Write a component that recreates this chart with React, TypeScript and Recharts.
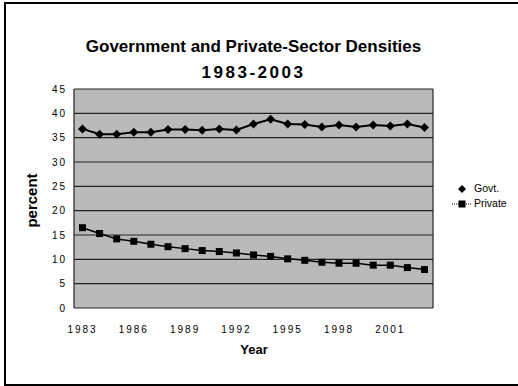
import React from 'react';
import { LineChart, Line, XAxis, YAxis, CartesianGrid } from 'recharts';

const years = ['1983', '1984', '1985', '1986', '1987', '1988', '1989', '1990', '1991', '1992', '1993',
  '1994', '1995', '1996', '1997', '1998', '1999', '2000', '2001', '2002', '2003'];
const govt = [36.8, 35.7, 35.7, 36.1, 36.1, 36.7, 36.7, 36.5, 36.8, 36.6, 37.8,
  38.8, 37.8, 37.7, 37.2, 37.6, 37.2, 37.6, 37.4, 37.8, 37.1];
const priv = [16.5, 15.3, 14.2, 13.7, 13.1, 12.6, 12.2, 11.8, 11.6, 11.3, 10.9,
  10.6, 10.1, 9.8, 9.4, 9.2, 9.2, 8.8, 8.8, 8.3, 7.9];
const yTicks = [0, 5, 10, 15, 20, 25, 30, 35, 40, 45];

const font = '"Liberation Sans", Arial, sans-serif';

const data = years.map((y, i) => ({ year: y, govt: govt[i], priv: priv[i] }));

const Diamond = (p: any) => {
  const { cx, cy } = p;
  if (cx == null || cy == null) return null;
  return <polygon points={`${cx},${cy - 4.5} ${cx + 4.5},${cy} ${cx},${cy + 4.5} ${cx - 4.5},${cy}`} fill="#000" />;
};

const Square = (p: any) => {
  const { cx, cy } = p;
  if (cx == null || cy == null) return null;
  return <rect x={cx - 3.5} y={cy - 3.5} width={7} height={7} fill="#000" />;
};

const tickStyle = { fontSize: 10, fill: '#000', fontFamily: font, letterSpacing: 2 };

export default function App() {
  return (
    <div style={{ position: 'absolute', left: 0, top: 0, width: 518, height: 386, background: '#fff', fontFamily: font }}>
      <div style={{ position: 'absolute', left: 4, top: 2, width: 514, height: 380, borderLeft: '2px solid #000', borderTop: '2px solid #000', borderBottom: '2px solid #000' }} />
      <div style={{ position: 'absolute', left: 74, width: 359, top: 37, textAlign: 'center', fontSize: 17, fontWeight: 'bold', lineHeight: '20px', color: '#000' }}>
        Government and Private-Sector Densities
      </div>
      <div style={{ position: 'absolute', left: 74, width: 359, top: 63, textAlign: 'center', fontSize: 17, fontWeight: 'bold', lineHeight: '20px', letterSpacing: 2.5, color: '#000' }}>
        1983-2003
      </div>
      <LineChart width={518} height={386} data={data} margin={{ top: 89, right: 85, left: 34, bottom: 48 }}>
        <CartesianGrid fill="#bababa" stroke="#222" strokeWidth={1.2} verticalPoints={[74, 433]} />
        <XAxis dataKey="year" interval={2} tickLine={false} axisLine={false} tickSize={0} tickMargin={18}
          padding={{ left: 8.5, right: 8.5 }} height={30} tick={tickStyle} />
        <YAxis domain={[0, 45]} ticks={yTicks} tickLine={false} axisLine={false} tickSize={0} tickMargin={7}
          width={40} tick={tickStyle} />
        <Line dataKey="govt" stroke="#000" strokeWidth={2} dot={<Diamond />} isAnimationActive={false} />
        <Line dataKey="priv" stroke="#000" strokeWidth={1.5} dot={<Square />} isAnimationActive={false} />
      </LineChart>
      <div style={{ position: 'absolute', left: 254, width: 0, top: 342, display: 'flex', justifyContent: 'center', fontSize: 13, fontWeight: 'bold', color: '#000' }}>
        <span style={{ whiteSpace: 'nowrap' }}>Year</span>
      </div>
      <div style={{ position: 'absolute', left: 31, top: 200, width: 0, height: 0, display: 'flex', justifyContent: 'center', alignItems: 'center' }}>
        <span style={{ transform: 'rotate(-90deg)', whiteSpace: 'nowrap', fontSize: 15, fontWeight: 'bold', color: '#000' }}>percent</span>
      </div>
      <div style={{ position: 'absolute', left: 452, top: 181, fontSize: 10.5, color: '#000', lineHeight: '15px' }}>
        <div style={{ display: 'flex', alignItems: 'center' }}>
          <svg width={20} height={12}><polygon points="10,2 14,6 10,10 6,6" fill="#000" /></svg>
          <span style={{ marginLeft: 2 }}>Govt.</span>
        </div>
        <div style={{ display: 'flex', alignItems: 'center' }}>
          <svg width={20} height={12}>
            <line x1={0} y1={6} x2={20} y2={6} stroke="#000" strokeWidth={1} strokeDasharray="1 1" />
            <rect x={6.5} y={2.5} width={7} height={7} fill="#000" />
          </svg>
          <span style={{ marginLeft: 2 }}>Private</span>
        </div>
      </div>
    </div>
  );
}
